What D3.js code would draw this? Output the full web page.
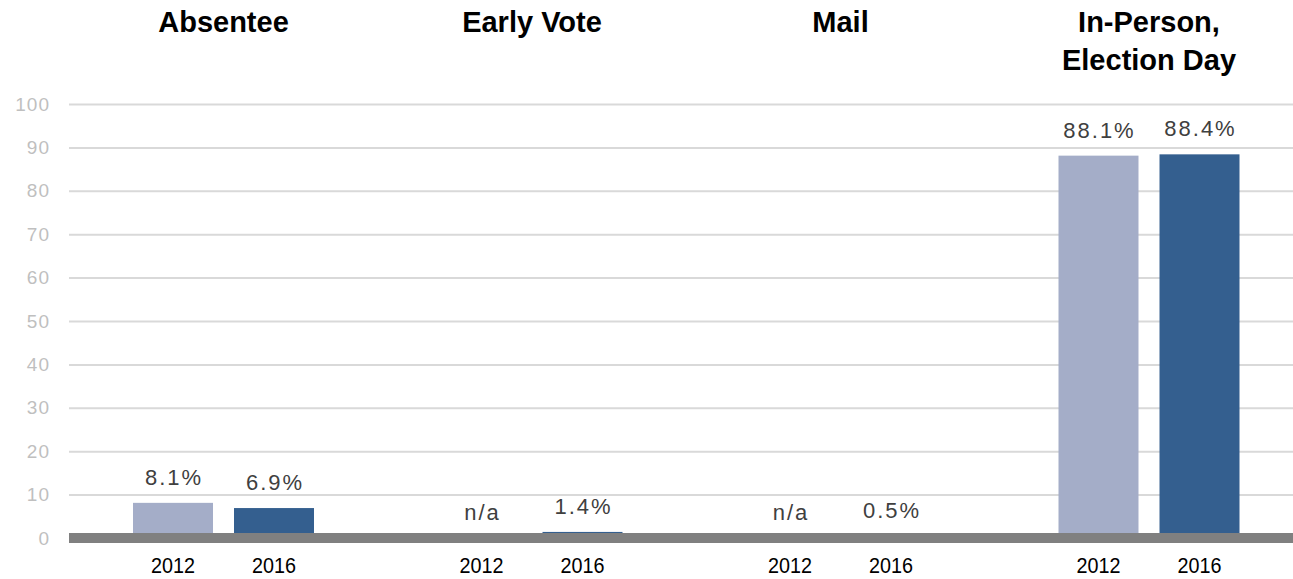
<!DOCTYPE html>
<html>
<head>
<meta charset="utf-8">
<script src="https://cdn.jsdelivr.net/npm/d3@7"></script>
<style>
  body { margin: 0; background: #fff; }
  svg { display: block; font-family: Arial, "Liberation Sans", sans-serif; }
</style>
</head>
<body>
<div id="chart"></div>
<script>
"use strict";

const categories = ["Absentee", "Early Vote", "Mail", "In-Person, Election Day"];
const titleLines = [["Absentee"], ["Early Vote"], ["Mail"], ["In-Person,", "Election Day"]];
const years = ["2012", "2016"];
const values2012 = [8.1, null, null, 88.1];
const values2016 = [6.9, 1.4, 0.5, 88.4];
const yTicks = [0, 10, 20, 30, 40, 50, 60, 70, 80, 90, 100];

const yearColor = {"2012": "#a4adc8", "2016": "#345f8f"};

const width = 1293, height = 579;
const margin = {top: 104, left: 69, bottom: 41};

const data = categories.flatMap((c, i) => [
    {cat: c, year: "2012", value: values2012[i]},
    {cat: c, year: "2016", value: values2016[i]}
]);

const svg = d3.select("#chart").append("svg")
    .attr("width", width)
    .attr("height", height);

const x0 = d3.scaleBand()
    .domain(categories)
    .range([margin.left, margin.left + 4 * 308.5]);

const x1 = d3.scaleBand()
    .domain(years)
    .range([64, 245])
    .paddingInner(0.208);

const y = d3.scaleLinear()
    .domain([0, 100])
    .range([height - margin.bottom, margin.top]);

// gridlines + tick labels
const yAxis = d3.axisLeft(y)
    .tickValues(yTicks)
    .tickSize(-(width - margin.left))
    .tickPadding(19);

svg.append("g")
    .attr("transform", `translate(${margin.left},0)`)
    .call(yAxis)
    .call(g => g.select(".domain").remove())
    .call(g => g.selectAll(".tick line")
        .attr("stroke", "#d9d9d9")
        .attr("stroke-width", 2))
    .call(g => g.selectAll(".tick text")
        .attr("fill", "#bfbfbf")
        .attr("font-size", 19)
        .attr("letter-spacing", 1)
        .attr("font-family", "Arial, 'Liberation Sans', sans-serif"));

// bars
svg.append("g")
    .selectAll("rect")
    .data(data.filter(d => d.value != null))
    .join("rect")
    .attr("x", d => x0(d.cat) + x1(d.year))
    .attr("width", x1.bandwidth())
    .attr("y", d => y(d.value))
    .attr("height", d => y(0) - y(d.value))
    .attr("fill", d => yearColor[d.year]);

// baseline
svg.append("rect")
    .attr("x", margin.left)
    .attr("y", y(0) - 5)
    .attr("width", width - margin.left)
    .attr("height", 10)
    .attr("fill", "#808080");

const barMid = d => x0(d.cat) + x1(d.year) + x1.bandwidth() / 2;

// value labels
svg.append("g")
    .attr("text-anchor", "middle")
    .attr("fill", "#404040")
    .attr("font-size", 22)
    .attr("letter-spacing", 2)
    .selectAll("text")
    .data(data)
    .join("text")
    .attr("x", d => barMid(d) + 1)
    .attr("y", d => y(d.value || 0) - 18)
    .text(d => d.value == null ? "n/a" : d.value.toFixed(1) + "%");

// year labels (narrow digits as in the original)
svg.append("g")
    .attr("fill", "#000")
    .attr("font-size", 22)
    .selectAll("text")
    .data(data)
    .join("text")
    .attr("x", d => barMid(d) - 22)
    .attr("y", 573)
    .attr("textLength", 44)
    .attr("lengthAdjust", "spacingAndGlyphs")
    .text(d => d.year);

// category titles
const titles = svg.append("g")
    .attr("text-anchor", "middle")
    .attr("font-weight", "bold")
    .attr("font-size", 29)
    .attr("fill", "#000")
    .selectAll("text")
    .data(categories)
    .join("text")
    .attr("x", d => x0(d) + x1("2012") + (x1("2016") + x1.bandwidth() - x1("2012")) / 2)
    .attr("y", 32);

titles.selectAll("tspan")
    .data((d, i) => titleLines[i])
    .join("tspan")
    .attr("x", function() { return this.parentNode.getAttribute("x"); })
    .attr("dy", (d, i) => i === 0 ? 0 : 38)
    .text(d => d);
</script>
</body>
</html>
